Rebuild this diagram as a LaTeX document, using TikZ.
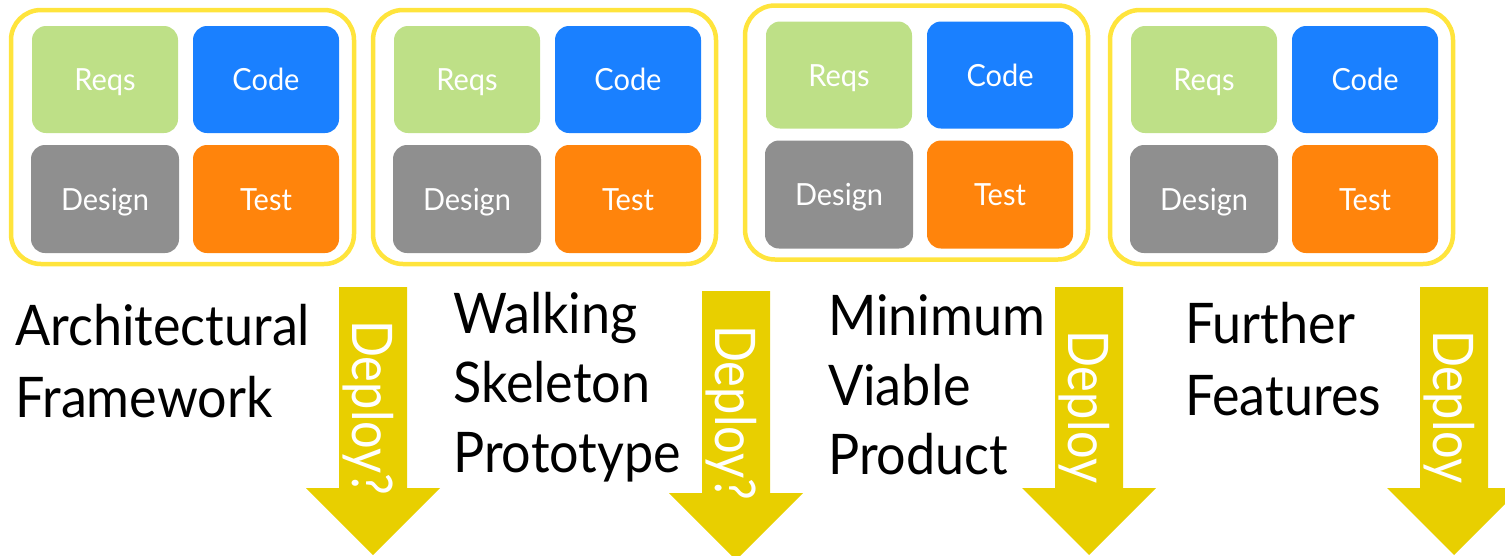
\documentclass[tikz,border=0pt]{standalone}
\usepackage{fontspec}
\setmainfont{Lato}
\newfontfamily\boxfont[FakeStretch=0.95]{Lato}
\newfontfamily\labelfont[FakeStretch=0.93]{Lato}
\newfontfamily\arrowfont[FakeStretch=0.87]{Lato}

\definecolor{frameyellow}{HTML}{FFE43C}
\definecolor{arrowyellow}{HTML}{E8CF00}
\definecolor{reqsgreen}{HTML}{BEE087}
\definecolor{codeblue}{HTML}{1A80FF}
\definecolor{designgray}{HTML}{8F8F8F}
\definecolor{testorange}{HTML}{FF840C}

\tikzset{
  stageframe/.style={draw=frameyellow, line width=4.5pt, rounded corners=30pt,
    minimum width=343pt, minimum height=254pt, inner sep=0pt},
  task/.style={rounded corners=14pt, text=white, inner sep=0pt,
    font=\boxfont\fontsize{30.5}{36}\selectfont,
    minimum width=146pt, minimum height=107pt, text height=22pt, text depth=0pt},
  stagelabel/.style={anchor=base west, inner sep=0pt,
    font=\labelfont\fontsize{56}{70}\selectfont},
  deploytext/.style={rotate=-90, anchor=base west, inner sep=0pt, text=white,
    font=\arrowfont\fontsize{56}{60}\selectfont},
}

% one iteration: a framed block of the four activities
\newcommand\stage[3]{%
  \begin{scope}[shift={(#2,#3)}]
    \node[stageframe] (#1) at (182.5,137) {};
    \node[task, fill=reqsgreen] (#1-reqs) at (105,79.5) {Reqs};
    \node[task, fill=codeblue] (#1-code) at (266,79.5) {Code};
    \node[task, fill=designgray, minimum width=148pt, minimum height=108pt] (#1-design) at (105,199) {Design};
    \node[task, fill=testorange, minimum height=108pt] (#1-test) at (266,199) {Test};
  \end{scope}}

% a downward deployment arrow: name, centre x, top y, head base y, text start y, text
\newcommand\deployarrow[6]{%
  \fill[arrowyellow] (#2-34,#3) -- (#2+34,#3) -- (#2+34,#4) -- (#2+67,#4)
    -- (#2,#4+67) -- (#2-67,#4) -- (#2-34,#4) -- cycle;
  \node[deploytext] (#1) at (#2-21,#5) {#6};}

\begin{document}
\begin{tikzpicture}[x=1pt,y=-1pt]
\useasboundingbox (0,0) rectangle (1505,555);
\clip (0,0) rectangle (1505,555);

\stage{s1}{0}{0}
\stage{s2}{362}{0}
\stage{s3}{734}{-4.5}
\stage{s4}{1099}{0}

\deployarrow{d1}{373}{287}{488}{320}{Deploy?}
\deployarrow{d2}{736}{291}{493}{325}{Deploy?}
\deployarrow{d3}{1089}{287}{488}{330}{Deploy}
\deployarrow{d4}{1454}{287}{488}{330}{Deploy}

\node[stagelabel] (l1a) at (15,345) {Architectural};
\node[stagelabel] (l1b) at (15,417) {Framework};

\node[stagelabel] (l2a) at (453,333) {Walking};
\node[stagelabel] (l2b) at (453,402) {Skeleton};
\node[stagelabel] (l2c) at (453,472) {Prototype};

\node[stagelabel] (l3a) at (828,335) {Minimum};
\node[stagelabel] (l3b) at (828,405) {Viable};
\node[stagelabel] (l3c) at (828,474) {Product};

\node[stagelabel] (l4a) at (1185,343) {Further};
\node[stagelabel] (l4b) at (1185,415) {Features};
\end{tikzpicture}
\end{document}
